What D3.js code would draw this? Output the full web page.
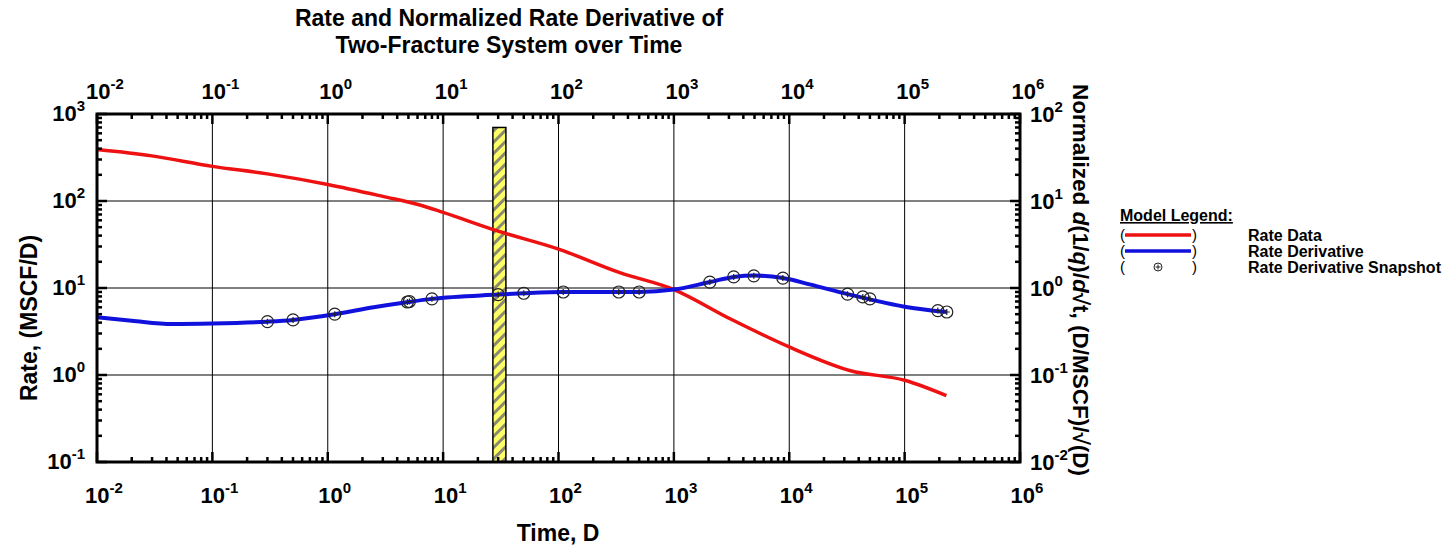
<!DOCTYPE html>
<html>
<head>
<meta charset="utf-8">
<script src="https://cdn.jsdelivr.net/npm/d3@7"></script>
<style>
  body { margin: 0; background: #fff; }
  text { font-family: "Liberation Sans", Arial, sans-serif; font-weight: bold; }
</style>
</head>
<body>
<div id="chart"></div>
<script>
// Rate data (left axis)
const rateTime = [0.01, 0.03, 0.1, 0.3, 1, 3, 6.3, 10, 30, 100, 340, 1000, 3100, 10000, 34000, 100000, 230000];
const rateValue = [390, 330, 250, 205, 155, 113, 90, 74, 45, 28, 15, 9.6, 4.4, 2.1, 1.12, 0.87, 0.58];

// Rate derivative (right axis)
const derivTime = [0.01, 0.02, 0.045, 0.1, 0.3, 0.5, 1.15, 2.5, 5, 8, 30, 50, 110, 500, 1000, 2050, 3300, 5000, 8800, 15000, 32000, 50000, 100000, 232000];
const derivValue = [0.46, 0.42, 0.385, 0.39, 0.41, 0.43, 0.50, 0.60, 0.69, 0.75, 0.84, 0.87, 0.90, 0.90, 0.96, 1.17, 1.34, 1.39, 1.30, 1.10, 0.85, 0.74, 0.61, 0.53];

// Snapshot markers (right axis)
const snapTime = [0.3, 0.5, 1.15, 4.9, 5.1, 8, 30, 50, 110, 333, 500, 2050, 3300, 4930, 8800, 32000, 43400, 50000, 194000, 232000];
const snapValue = [0.41, 0.43, 0.50, 0.69, 0.70, 0.75, 0.84, 0.87, 0.90, 0.90, 0.90, 1.17, 1.34, 1.38, 1.30, 0.85, 0.79, 0.75, 0.55, 0.53];

// Highlighted time window (hatched bar)
const barTime = [27, 35];
const barTop = 700;

const xExp = [-2, -1, 0, 1, 2, 3, 4, 5, 6];
const yLeftExp = [-1, 0, 1, 2, 3];
const yRightExp = [-2, -1, 0, 1, 2];

const legendItems = ["Rate Data", "Rate Derivative", "Rate Derivative Snapshot"];

let width = 1453, height = 546;
let margin = { top: 114, bottom: 84, left: 97, right: 433 };

let svg = d3.select("#chart")
            .append("svg")
            .attr("width", width)
            .attr("height", height);

let x = d3.scaleLog().domain([1e-2, 1e6]).range([margin.left, width - margin.right]);
let yL = d3.scaleLog().domain([1e-1, 1e3]).range([height - margin.bottom, margin.top]);
let yR = d3.scaleLog().domain([1e-2, 1e2]).range([height - margin.bottom, margin.top]);

const x0 = margin.left, x1 = width - margin.right;
const y0 = height - margin.bottom, y1 = margin.top;

// hatch pattern for bar
const defs = svg.append("defs");
const pat = defs.append("pattern")
  .attr("id", "hatch")
  .attr("patternUnits", "userSpaceOnUse")
  .attr("width", 8).attr("height", 8)
  .attr("patternTransform", "rotate(-45)");
pat.append("rect").attr("width", 8).attr("height", 8).attr("fill", "#ffff66");
pat.append("rect").attr("width", 8).attr("height", 3).attr("fill", "#8a8a70");

// grid lines
xExp.forEach(e => {
  svg.append("line")
     .attr("x1", x(10 ** e)).attr("x2", x(10 ** e))
     .attr("y1", y0).attr("y2", y1)
     .attr("stroke", "black").attr("stroke-width", 1);
});
yLeftExp.forEach(e => {
  svg.append("line")
     .attr("x1", x0).attr("x2", x1)
     .attr("y1", yL(10 ** e)).attr("y2", yL(10 ** e))
     .attr("stroke", "black").attr("stroke-width", 1);
});

// hatched bar
svg.append("rect")
   .attr("x", x(barTime[0]))
   .attr("y", yL(barTop))
   .attr("width", x(barTime[1]) - x(barTime[0]))
   .attr("height", y0 - yL(barTop))
   .attr("fill", "url(#hatch)")
   .attr("stroke", "black")
   .attr("stroke-width", 1.5);

// curves
const rateLine = d3.line()
  .x((d, i) => x(rateTime[i]))
  .y(d => yL(d))
  .curve(d3.curveMonotoneX);

svg.append("path")
   .datum(rateValue)
   .attr("d", rateLine)
   .attr("fill", "none")
   .attr("stroke", "#ee1111")
   .attr("stroke-width", 3.5);

const derivLine = d3.line()
  .x((d, i) => x(derivTime[i]))
  .y(d => yR(d))
  .curve(d3.curveMonotoneX);

svg.append("path")
   .datum(derivValue)
   .attr("d", derivLine)
   .attr("fill", "none")
   .attr("stroke", "#1111dd")
   .attr("stroke-width", 4);

// snapshot markers
snapTime.forEach((t, i) => {
  const cx = x(t), cy = yR(snapValue[i]);
  const g = svg.append("g");
  g.append("circle").attr("cx", cx).attr("cy", cy).attr("r", 6)
   .attr("fill", "none").attr("stroke", "#222").attr("stroke-width", 1.2);
  g.append("path").attr("d", `M${cx - 3},${cy}H${cx + 3}M${cx},${cy - 3}V${cy + 3}`)
   .attr("stroke", "#222").attr("stroke-width", 1.2);
});

// ticks (inward) on all four sides
function minorVals(exps) {
  const out = [];
  for (let k = 0; k < exps.length - 1; k++) {
    for (let m = 2; m < 10; m++) out.push(m * 10 ** exps[k]);
  }
  return out;
}
const tickG = svg.append("g").attr("stroke", "black").attr("stroke-width", 2.5);
xExp.forEach(e => {
  const px = x(10 ** e);
  tickG.append("line").attr("x1", px).attr("x2", px).attr("y1", y0).attr("y2", y0 - 10);
  tickG.append("line").attr("x1", px).attr("x2", px).attr("y1", y1).attr("y2", y1 + 10);
});
minorVals(xExp).forEach(v => {
  const px = x(v);
  tickG.append("line").attr("x1", px).attr("x2", px).attr("y1", y0).attr("y2", y0 - 5);
  tickG.append("line").attr("x1", px).attr("x2", px).attr("y1", y1).attr("y2", y1 + 5);
});
yLeftExp.forEach(e => {
  const py = yL(10 ** e);
  tickG.append("line").attr("x1", x0).attr("x2", x0 + 10).attr("y1", py).attr("y2", py);
});
minorVals(yLeftExp).forEach(v => {
  const py = yL(v);
  tickG.append("line").attr("x1", x0).attr("x2", x0 + 5).attr("y1", py).attr("y2", py);
});
yRightExp.forEach(e => {
  const py = yR(10 ** e);
  tickG.append("line").attr("x1", x1).attr("x2", x1 - 10).attr("y1", py).attr("y2", py);
});
minorVals(yRightExp).forEach(v => {
  const py = yR(v);
  tickG.append("line").attr("x1", x1).attr("x2", x1 - 5).attr("y1", py).attr("y2", py);
});

// frame
svg.append("rect")
   .attr("x", x0).attr("y", y1)
   .attr("width", x1 - x0).attr("height", y0 - y1)
   .attr("fill", "none").attr("stroke", "black").attr("stroke-width", 3);

// power-of-ten labels
function powLabel(px, py, e, anchor) {
  const t = svg.append("text")
    .attr("x", px).attr("y", py)
    .attr("text-anchor", anchor)
    .style("font-size", "22px");
  t.append("tspan").text("10");
  t.append("tspan").attr("dy", -10).style("font-size", "15px").text(e);
  return t;
}
xExp.forEach(e => {
  powLabel(x(10 ** e) + 8, 99, e, "middle");
  powLabel(x(10 ** e) + 7, 503, e, "middle");
});
yLeftExp.forEach(e => {
  powLabel(85, yL(10 ** e) + 7, e, "end");
});
yRightExp.forEach(e => {
  powLabel(1030, yR(10 ** e) + 8, e, "start");
});

// title
svg.append("text").attr("x", 509).attr("y", 26).attr("text-anchor", "middle")
   .style("font-size", "23px").text("Rate and Normalized Rate Derivative of");
svg.append("text").attr("x", 509).attr("y", 53).attr("text-anchor", "middle")
   .style("font-size", "23px").text("Two-Fracture System over Time");

// axis labels
svg.append("text").attr("x", 558).attr("y", 541).attr("text-anchor", "middle")
   .style("font-size", "23px").text("Time, D");

svg.append("text")
   .attr("transform", `translate(37, ${(y0 + y1) / 2 + 30}) rotate(-90)`)
   .attr("text-anchor", "middle")
   .style("font-size", "23px")
   .text("Rate, (MSCF/D)");

const rl = svg.append("text")
   .attr("transform", `translate(1073, 280) rotate(90)`)
   .attr("text-anchor", "middle")
   .style("font-size", "22.5px");
rl.append("tspan").text("Normalized ");
rl.append("tspan").style("font-style", "italic").text("d");
rl.append("tspan").text("(1/");
rl.append("tspan").style("font-style", "italic").text("q");
rl.append("tspan").text(")/");
rl.append("tspan").style("font-style", "italic").text("d");
rl.append("tspan").text("\u221At, (D/MSCF)/\u221A(D)");

// legend
const legend = svg.append("g").attr("transform", "translate(1120, 0)");
legend.append("text").attr("x", 0).attr("y", 221)
   .style("font-size", "16px").style("text-decoration", "underline").text("Model Legend:");
const legendColors = ["#ee1111", "#1111dd", null];
legendItems.forEach((name, i) => {
  const ly = 235 + i * 16;
  legend.append("text").attr("x", 0).attr("y", ly + 5).style("font-size", "15px").style("font-weight", "normal").text("(");
  legend.append("text").attr("x", 72).attr("y", ly + 5).style("font-size", "15px").style("font-weight", "normal").text(")");
  if (legendColors[i]) {
    legend.append("line").attr("x1", 5).attr("x2", 71).attr("y1", ly).attr("y2", ly)
      .attr("stroke", legendColors[i]).attr("stroke-width", 3.5);
  } else {
    legend.append("circle").attr("cx", 38).attr("cy", ly).attr("r", 4)
      .attr("fill", "none").attr("stroke", "#222").attr("stroke-width", 1);
    legend.append("path").attr("d", `M35.5,${ly}H40.5M38,${ly - 2.5}V${ly + 2.5}`)
      .attr("stroke", "#222").attr("stroke-width", 1);
  }
  legend.append("text").attr("x", 128).attr("y", ly + 6)
    .style("font-size", "16px").text(name);
});
</script>
</body>
</html>
